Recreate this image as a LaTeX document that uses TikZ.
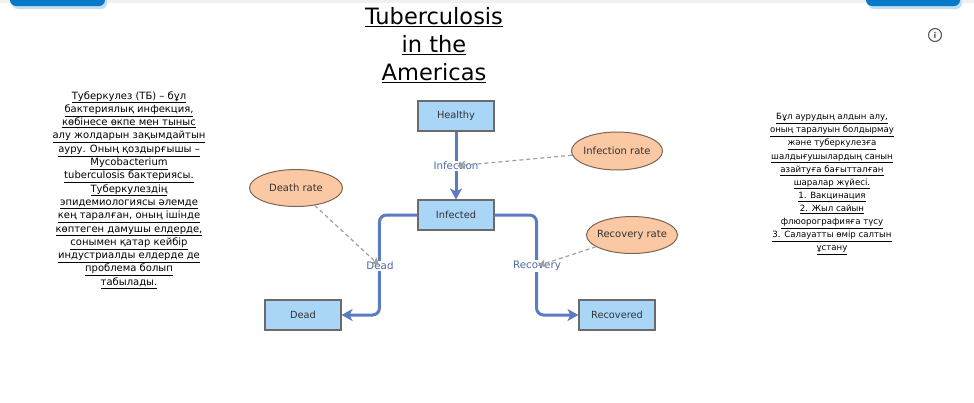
\documentclass[tikz,border=0pt]{standalone}
\usepackage{fontspec}
\setmainfont{DejaVu Sans}
\usetikzlibrary{arrows.meta,shapes.geometric}
\definecolor{boxfill}{HTML}{A9D5F7}
\definecolor{boxline}{HTML}{6B6B6B}
\definecolor{ellfill}{HTML}{FAC8A2}
\definecolor{ellline}{HTML}{7A6656}
\definecolor{flowblue}{HTML}{5B7CC0}
\definecolor{lblblue}{HTML}{4E68AA}
\definecolor{dashgrey}{HTML}{A0A0A0}
\definecolor{topblue}{HTML}{0878C8}
\newcommand{\myul}[1]{\underline{#1}}
\newcommand{\zw}[1]{\makebox[0pt]{#1}}
\tikzset{
  stock/.style={draw=boxline, fill=boxfill, line width=1.1pt, minimum width=76pt, minimum height=30pt, inner sep=0pt, font=\fontsize{9.8}{11}\selectfont, text=black!80},
  rate/.style={ellipse, draw=ellline, fill=ellfill, line width=1pt, minimum width=91pt, minimum height=38pt, inner sep=0pt, font=\fontsize{10}{11}\selectfont, text=black!80},
  flow/.style={draw=flowblue, line width=3pt, rounded corners=7pt, -{Stealth[length=11pt,width=12pt,inset=3pt]}},
  lbl/.style={fill=white, inner sep=1pt, text=lblblue, font=\fontsize{10.3}{12}\selectfont},
  infl/.style={draw=dashgrey, line width=1.2pt, dash pattern=on 4pt off 3pt, -{Stealth[length=8pt,width=8pt,inset=2pt]}, shorten >=1pt},
  para/.style={align=center, text=black, inner sep=0pt},
}
\begin{document}
\begin{tikzpicture}[x=1pt,y=-1pt]
\useasboundingbox (0,0) rectangle (974,402);
\fill[white] (0,0) rectangle (974,402);
\fill[black!6] (0,0) rectangle (974,3);
% top corner buttons
\fill[topblue!25, rounded corners=6pt] (12,-10) rectangle (107,9);
\fill[topblue, rounded corners=6pt] (10,-12) rectangle (105,6);
\fill[topblue!25, rounded corners=6pt] (868,-10) rectangle (962,9);
\fill[topblue, rounded corners=6pt] (866,-12) rectangle (960,6);
% info icon
\node[circle, draw=black!65, line width=1.1pt, minimum size=13pt, inner sep=0pt, font=\fontsize{8}{8}\selectfont\bfseries, text=black!65] (info) at (935,35) {i};
% title
\node[para, font=\fontsize{22.5}{28}\selectfont] (title) at (434,45) {\myul{Tuberculosis}\\ \myul{in the}\\ \myul{Americas}};
% left text
\node[para, font=\fontsize{10}{13.3}\selectfont] (lefttext) at (129,190) {%
\myul{Туберкулез (ТБ) – бұл}\\
\myul{бактериялық инфекция,}\\
\myul{көбінесе өкпе мен тыныс}\\
\myul{алу жолдарын зақымдайтын}\\
\myul{ауру. Оның қоздырғышы –}\\
\myul{Mycobacterium}\\
\myul{tuberculosis бактериясы.}\\
\myul{Туберкулездің}\\
\myul{эпидемиологиясы әлемде}\\
\myul{кең таралған, оның ішінде}\\
\myul{көптеген дамушы елдерде,}\\
\myul{сонымен қатар кейбір}\\
\myul{индустриалды елдерде де}\\
\myul{проблема болып}\\
\myul{табылады.}};
% right text
\node[para, font=\fontsize{8.6}{13.1}\selectfont] (righttext) at (832,184) {%
\myul{Бұл аурудың алдын алу,}\\
\myul{оның таралуын болдырмау}\\
\myul{және туберкулезға}\\
\myul{шалдығушылардың санын}\\
\myul{азайтуға бағытталған}\\
\myul{шаралар жүйесі.}\\
\myul{1. Вакцинация}\\
\myul{2. Жыл сайын}\\
\myul{флюорографияға түсу}\\
\myul{3. Салауатты өмір салтын}\\
\myul{ұстану}};
% stocks
\node[stock] (healthy) at (456,116) {Healthy};
\node[stock] (infected) at (456,215) {Infected};
\node[stock] (dead) at (303,315) {Dead};
\node[stock] (recovered) at (617,315) {Recovered};
% rates
\node[rate] (infrate) at (617,151) {\zw{Infection rate}};
\node[rate, minimum width=93pt, minimum height=37pt] (deathrate) at (296,188) {\zw{Death rate}};
\node[rate, minimum height=37pt] (recrate) at (632,235) {\zw{Recovery rate}};
% flows
\draw[flow] (healthy.south) -- (infected.north);
\draw[flow] (infected.west) -- ++(-38,0) |- (dead.east);
\draw[flow] (infected.east) -- ++(42,0) |- (recovered.west);
% flow labels
\node[lbl] (inflbl) at (456,166) {Infection};
\node[lbl] (deadlbl) at (380,266) {Dead};
\node[lbl] (reclbl) at (537,266) {Recovery};
% influence arrows
\draw[infl] (infrate) -- (inflbl.center);
\draw[infl] (deathrate) -- (deadlbl.center);
\draw[infl] (recrate) -- (reclbl.center);
\end{tikzpicture}
\end{document}
